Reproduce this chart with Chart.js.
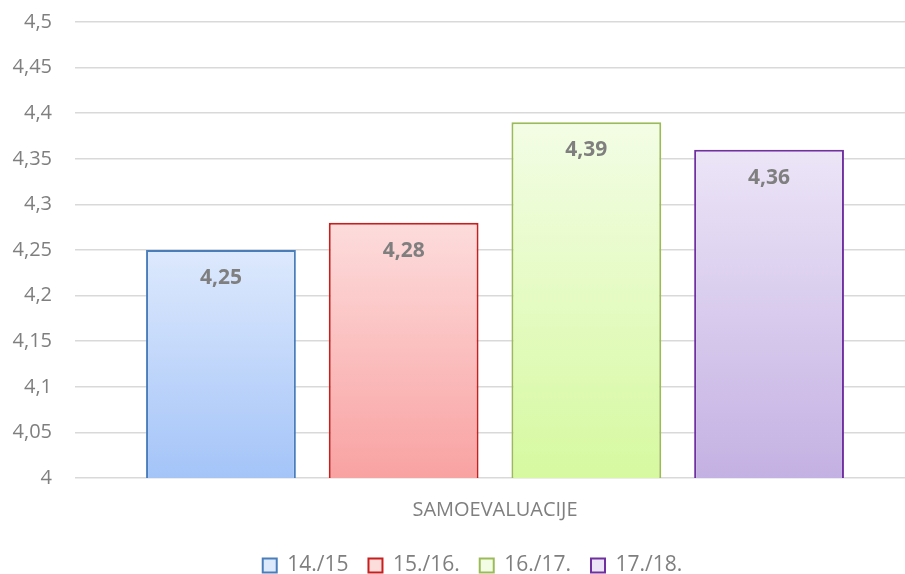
<!DOCTYPE html>
<html>
<head>
<meta charset="utf-8">
<script src="https://cdn.jsdelivr.net/npm/chart.js@4"></script>
<style>
  body { margin: 0; background: #fff; overflow: hidden; }
  #wrap { width: 915px; height: 574px; }
</style>
</head>
<body>
<div id="wrap"><canvas id="chart"></canvas></div>
<script>
const categories = ['SAMOEVALUACIJE'];
const seriesNames = ['14./15', '15./16.', '16./17.', '17./18.'];
const values14 = [4.25];
const values15 = [4.28];
const values16 = [4.39];
const values17 = [4.36];
const yTicks = [4, 4.05, 4.1, 4.15, 4.2, 4.25, 4.3, 4.35, 4.4, 4.45, 4.5];

const borders = ['#4a7ebb', '#c81e1e', '#9bbb59', '#7030a0'];
const tops = ['#dde9fd', '#fddcdc', '#f3fde5', '#ece5f7'];
const bottoms = ['#a4c4f8', '#f9a2a2', '#d6f9a0', '#c4b1e3'];

function comma(v) {
    return Number(v.toFixed(2)).toString().replace('.', ',');
}

function barGradient(i) {
    return function (ctx) {
        const chart = ctx.chart;
        if (!chart.chartArea || !chart.scales.y) return tops[i];
        const y = chart.scales.y;
        const top = y.getPixelForValue(ctx.raw !== undefined ? ctx.raw : y.max);
        const g = chart.ctx.createLinearGradient(0, top, 0, chart.chartArea.bottom);
        g.addColorStop(0, tops[i]);
        g.addColorStop(1, bottoms[i]);
        return g;
    };
}

const allValues = [values14, values15, values16, values17];

const valueLabels = {
    id: 'valueLabels',
    afterDatasetsDraw(chart) {
        const ctx = chart.ctx;
        ctx.save();
        ctx.font = 'bold 21px "Open Sans", sans-serif';
        ctx.fillStyle = '#7f7f7f';
        ctx.textAlign = 'center';
        ctx.textBaseline = 'middle';
        chart.data.datasets.forEach((ds, i) => {
            chart.getDatasetMeta(i).data.forEach((bar, j) => {
                ctx.fillText(comma(ds.data[j]), bar.x, bar.y + 28);
            });
        });
        ctx.restore();
    }
};

// legend in the original sits a bit right of the canvas centre
const legendShift = {
    id: 'legendShift',
    afterLayout(chart) {
        if (!chart.legend) return;
        chart.legend.left += 15;
        chart.legend.right += 15;
    }
};

new Chart(document.getElementById('chart'), {
    type: 'bar',
    data: {
        labels: categories,
        datasets: seriesNames.map((name, i) => ({
            label: name,
            data: allValues[i],
            backgroundColor: barGradient(i),
            borderColor: borders[i],
            borderWidth: 2,
            borderSkipped: 'bottom',
            categoryPercentage: 0.87,
            barPercentage: 0.82
        }))
    },
    options: {
        responsive: true,
        maintainAspectRatio: false,
        animation: false,
        layout: { padding: { top: 22, right: 0, left: 0, bottom: 0 } },
        plugins: {
            tooltip: { enabled: false },
            legend: {
                position: 'bottom',
                align: 'center',
                maxHeight: 39,
                labels: {
                    color: '#7f7f7f',
                    font: { family: '"Open Sans", sans-serif', size: 21 },
                    boxWidth: 14,
                    boxHeight: 14,
                    padding: 20,
                    generateLabels(chart) {
                        return chart.data.datasets.map((ds, i) => ({
                            text: ds.label,
                            fillStyle: tops[i],
                            strokeStyle: borders[i],
                            lineWidth: 2,
                            fontColor: '#7f7f7f',
                            datasetIndex: i
                        }));
                    }
                }
            }
        },
        scales: {
            x: {
                grid: { display: false, drawTicks: false },
                border: { display: false },
                afterFit(axis) {
                    axis.height = 57;
                },
                ticks: {
                    color: '#7f7f7f',
                    padding: 20,
                    font: { family: '"Open Sans", sans-serif', size: 20 }
                }
            },
            y: {
                min: 4,
                max: 4.5,
                afterBuildTicks(axis) {
                    axis.ticks = yTicks.map(v => ({ value: v }));
                },
                afterFit(axis) {
                    axis.width = 75;
                    axis.paddingTop = 0;
                    axis.paddingBottom = 0;
                },
                grid: { color: '#d9d9d9', lineWidth: 1.5, drawTicks: false },
                border: { display: false },
                ticks: {
                    color: '#7f7f7f',
                    padding: 23,
                    font: { family: '"Open Sans", sans-serif', size: 20 },
                    callback: v => comma(v)
                }
            }
        }
    },
    plugins: [valueLabels, legendShift]
});
</script>
</body>
</html>
